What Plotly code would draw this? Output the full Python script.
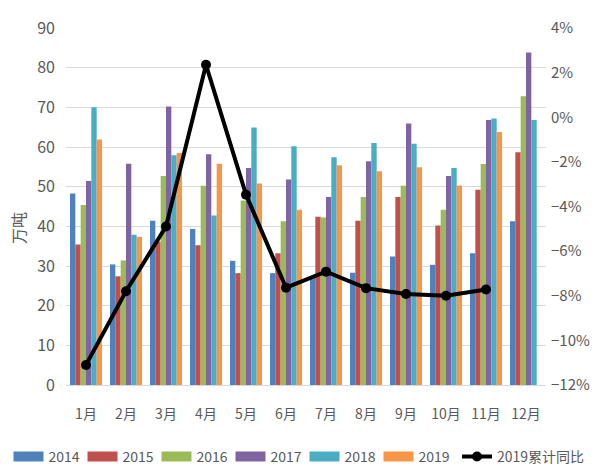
import plotly.graph_objects as go

months = ["1月", "2月", "3月", "4月", "5月", "6月", "7月", "8月", "9月", "10月", "11月", "12月"]

v2014 = [48.3, 30.4, 41.4, 39.3, 31.3, 28.2, 27.2, 28.3, 32.4, 30.3, 33.2, 41.3]
v2015 = [35.4, 27.4, 36.2, 35.2, 28.2, 33.2, 42.4, 41.4, 47.4, 40.2, 49.2, 58.7]
v2016 = [45.4, 31.4, 52.7, 50.2, 46.5, 41.3, 42.2, 47.4, 50.2, 44.2, 55.7, 72.8]
v2017 = [51.4, 55.8, 70.2, 58.2, 54.7, 51.8, 47.4, 56.4, 65.9, 52.7, 66.8, 83.8]
v2018 = [70.0, 37.9, 57.9, 42.7, 64.9, 60.2, 57.4, 61.0, 60.8, 54.7, 67.2, 66.8]
v2019 = [61.9, 37.4, 58.5, 55.8, 50.8, 44.2, 55.4, 53.9, 54.9, 50.3, 63.8, None]
yoy2019 = [-11.1, -7.8, -4.9, 2.35, -3.47, -7.64, -6.92, -7.66, -7.92, -8.0, -7.72, None]

series = [
    ("2014", v2014, "#4F81BD"),
    ("2015", v2015, "#C0504D"),
    ("2016", v2016, "#9BBB59"),
    ("2017", v2017, "#8064A2"),
    ("2018", v2018, "#4BACC6"),
    ("2019", v2019, "#F79646"),
]

font_main = "Noto Sans CJK SC, sans-serif"
tick_color = "#595959"

fig = go.Figure()
for name, vals, color in series:
    fig.add_trace(go.Bar(
        x=months, y=vals, name=name, showlegend=False, legendgroup=name,
        marker=dict(color=color, line=dict(width=0)),
    ))

# wide colour keys for the bar series legend
for name, vals, color in series:
    fig.add_trace(go.Scatter(
        x=[None], y=[None], name=name, legendgroup=name, mode="lines",
        line=dict(color=color, width=10), legend="legend",
    ))

fig.add_trace(go.Scatter(
    x=months, y=yoy2019, name="2019累计同比", yaxis="y2",
    mode="lines+markers", legend="legend2",
    line=dict(color="#000000", width=4),
    marker=dict(color="#000000", size=10),
))

fig.update_layout(
    width=595, height=470,
    margin=dict(l=66, r=49, t=28, b=85, autoexpand=False),
    paper_bgcolor="white", plot_bgcolor="white",
    barmode="group", bargap=0.2, bargroupgap=0,
    font=dict(family=font_main, size=14, color=tick_color),
    xaxis=dict(
        type="category", range=[-0.5, len(months) - 0.5],
        showgrid=False, showline=True, linecolor="#D9D9D9", linewidth=1,
        ticks="", tickfont=dict(size=14, color=tick_color), ticklabelstandoff=16,
        automargin=False,
    ),
    yaxis=dict(
        range=[0, 90], dtick=10, showgrid=True, gridcolor="#D9D9D9", gridwidth=1,
        zeroline=False, showline=False, ticks="", automargin=False,
        tickfont=dict(size=16, color=tick_color), ticklabelstandoff=10,
    ),
    yaxis2=dict(
        range=[-12, 4], dtick=2, overlaying="y", side="right",
        showgrid=False, zeroline=False, showline=False, ticks="", automargin=False,
        ticksuffix="%", tickfont=dict(size=15, color=tick_color), ticklabelstandoff=4,
    ),
    legend=dict(
        orientation="h", xref="container", yref="container",
        x=8.5 / 595, xanchor="left", y=0.028, yanchor="middle",
        font=dict(size=14, color=tick_color), itemwidth=30,
        entrywidth=29, entrywidthmode="pixels",
        tracegroupgap=0, traceorder="normal", bgcolor="rgba(0,0,0,0)",
    ),
    legend2=dict(
        orientation="h", xref="container", yref="container",
        x=457 / 595, xanchor="left", y=0.028, yanchor="middle",
        font=dict(size=14, color=tick_color), itemwidth=30,
        bgcolor="rgba(0,0,0,0)",
    ),
    annotations=[dict(
        text="万吨", xref="paper", yref="paper", x=-0.1, y=0.44,
        xanchor="center", yanchor="middle", textangle=-90, showarrow=False,
        font=dict(family="Noto Sans CJK SC, sans-serif", size=16, color=tick_color),
    )],
)

fig.write_html("out.html")
